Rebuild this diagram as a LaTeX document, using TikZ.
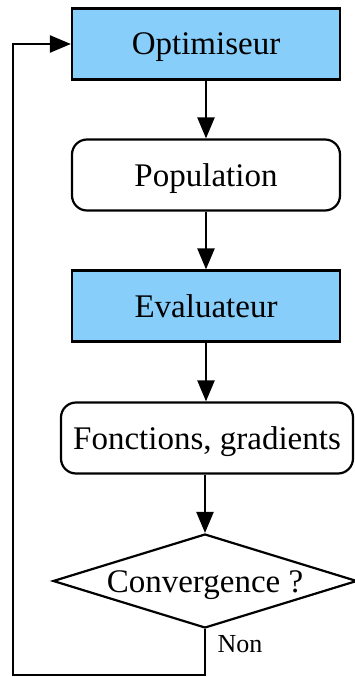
\documentclass[tikz,border=0pt]{standalone}
\usepackage{fontspec}
\setmainfont{Liberation Serif}
\usepackage{tikz}
\usetikzlibrary{arrows.meta,positioning,shapes.geometric}
\definecolor{bleuclair}{RGB}{135,206,250}
\tikzset{
  boite/.style={draw,line width=2.2pt,minimum width=268pt,minimum height=71pt,inner sep=0pt,
    text height=22pt,text depth=0pt,font=\fontsize{33}{39}\selectfont},
  bleue/.style={boite,fill=bleuclair},
  arrondie/.style={boite,rounded corners=15pt},
  losange/.style={draw,line width=2.2pt,diamond,aspect=3.2,minimum width=304pt,minimum height=94pt,inner sep=0pt,
    text height=22pt,text depth=0pt,font=\fontsize{33}{39}\selectfont},
  fleche/.style={-{Triangle[length=21pt,width=17pt]},line width=2.4pt},
}

\begin{document}
\begin{tikzpicture}[x=1pt,y=-1pt]
\useasboundingbox (0,0) rectangle (355,677);
\node[bleue] (O) at (206,44) {Optimiseur};
\node[arrondie] (P) at (206,175) {Population};
\node[bleue] (E) at (206,306) {Evaluateur};
\node[arrondie,minimum width=292pt] (F) at (207,438) {Fonctions, gradients};
\node[losange] (C) at (205,581) {Convergence ?};
\node[anchor=west,font=\fontsize{26}{30}\selectfont] (N) at (214,644) {Non};
\coordinate (R) at (13,675);
\draw[fleche] (O) -- (P);
\draw[fleche] (P) -- (E);
\draw[fleche] (E) -- (E |- F.north);
\draw[fleche] (C |- F.south) -- (C);
\draw[fleche] (C.south) |- (R) |- (O.west);
\end{tikzpicture}
\end{document}
